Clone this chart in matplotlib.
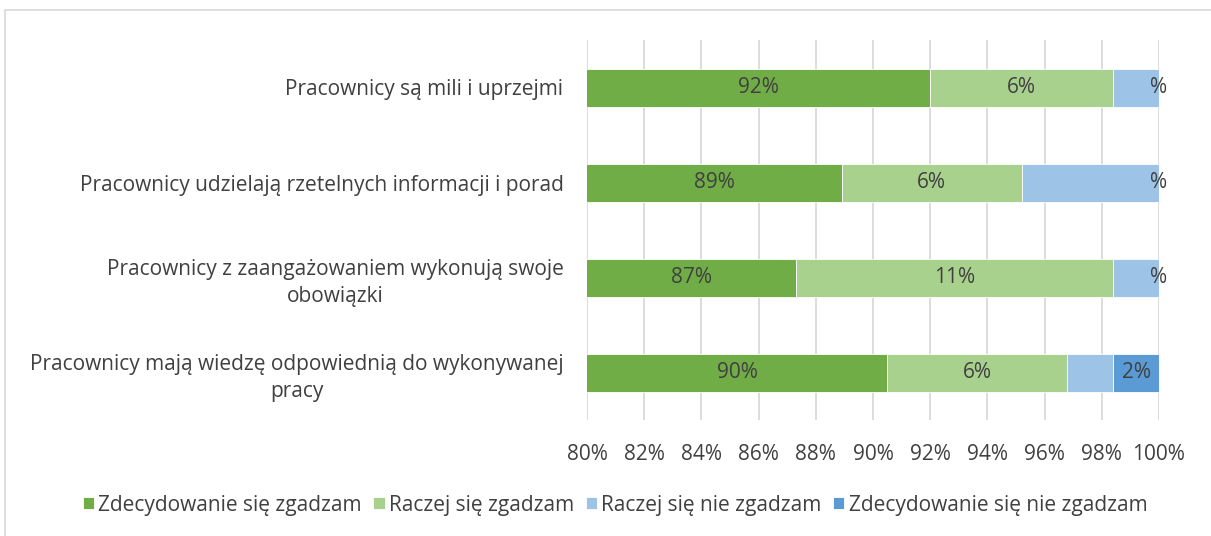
import matplotlib.pyplot as plt
from matplotlib.patches import Rectangle
from matplotlib.ticker import MultipleLocator, FuncFormatter
import numpy as np

# survey statements (top to bottom)
categories = [
    "Pracownicy są mili i uprzejmi",
    "Pracownicy udzielają rzetelnych informacji i porad",
    "Pracownicy z zaangażowaniem wykonują swoje\nobowiązki",
    "Pracownicy mają wiedzę odpowiednią do wykonywanej\npracy",
]

series_names = [
    "Zdecydowanie się zgadzam",
    "Raczej się zgadzam",
    "Raczej się nie zgadzam",
    "Zdecydowanie się nie zgadzam",
]

# share of answers in percent
strongly_agree = [92.0, 88.9, 87.3, 90.5]
rather_agree = [6.4, 6.3, 11.1, 6.3]
rather_disagree = [1.6, 4.8, 1.6, 1.6]
strongly_disagree = [0.0, 0.0, 0.0, 1.6]

# data labels as shown on the chart
labels_sa = ["92%", "89%", "87%", "90%"]
labels_ra = ["6%", "6%", "11%", "6%"]
labels_rd = ["%", "%", "%", ""]
labels_sd = ["", "", "", "2%"]

colors = ["#70AD47", "#A9D18E", "#9DC3E6", "#5B9BD5"]
text_col = "#404040"

plt.rcParams['font.family'] = ['Open Sans', 'DejaVu Sans']
fs = 15

fig = plt.figure(figsize=(12.11, 5.36), dpi=100)
ax = fig.add_axes([587 / 1211, 1 - 420 / 536, (1159 - 587) / 1211, 380 / 536])

# light frame around the chart area
fig.patches.append(Rectangle((5 / 1211, -0.1), 1.2, 1 - 10 / 536 + 0.1,
                             transform=fig.transFigure, fill=False,
                             edgecolor="#D9D9D9", lw=1.2))

y = np.arange(len(categories))
left = np.zeros(len(categories))
all_series = [strongly_agree, rather_agree, rather_disagree, strongly_disagree]
all_labels = [labels_sa, labels_ra, labels_rd, labels_sd]

for vals, labs, col, name in zip(all_series, all_labels, colors, series_names):
    vals = np.array(vals)
    ax.barh(y, vals, left=left, height=0.4, color=col, label=name,
            edgecolor="white", linewidth=0.6, zorder=2)
    for i, (v, lab) in enumerate(zip(vals, labs)):
        if not lab:
            continue
        if lab == "%":
            # truncated label sitting on the 100% edge
            xpos = left[i] + v
        else:
            xpos = max(left[i], 80) + (left[i] + v - max(left[i], 80)) / 2
        ax.text(xpos, i, lab, ha="center", va="center", color=text_col,
                fontsize=fs, zorder=3, clip_on=False)
    left = left + vals

ax.set_xlim(80, 100)
ax.set_ylim(len(categories) - 0.5, -0.5)
ax.xaxis.set_major_locator(MultipleLocator(2))
ax.xaxis.set_major_formatter(FuncFormatter(lambda v, p: f"{v:.0f}%"))
ax.grid(axis="x", color="#D9D9D9", lw=1.3, zorder=0)
ax.set_axisbelow(True)
for s in ax.spines.values():
    s.set_visible(False)

ax.set_yticks(y)
ax.set_yticklabels(categories, multialignment="center", linespacing=1.35)
ax.tick_params(axis="y", length=0, pad=17, labelsize=fs, labelcolor=text_col)
ax.tick_params(axis="x", length=0, pad=17, labelsize=fs, labelcolor=text_col)

fig.legend(loc="center", bbox_to_anchor=(615 / 1211, 1 - 505 / 536), ncol=4,
           frameon=False, fontsize=fs, handlelength=0.55, handleheight=0.55,
           handletextpad=0.2, columnspacing=0.55, labelcolor=text_col)

fig.savefig("out.png", dpi=100)
